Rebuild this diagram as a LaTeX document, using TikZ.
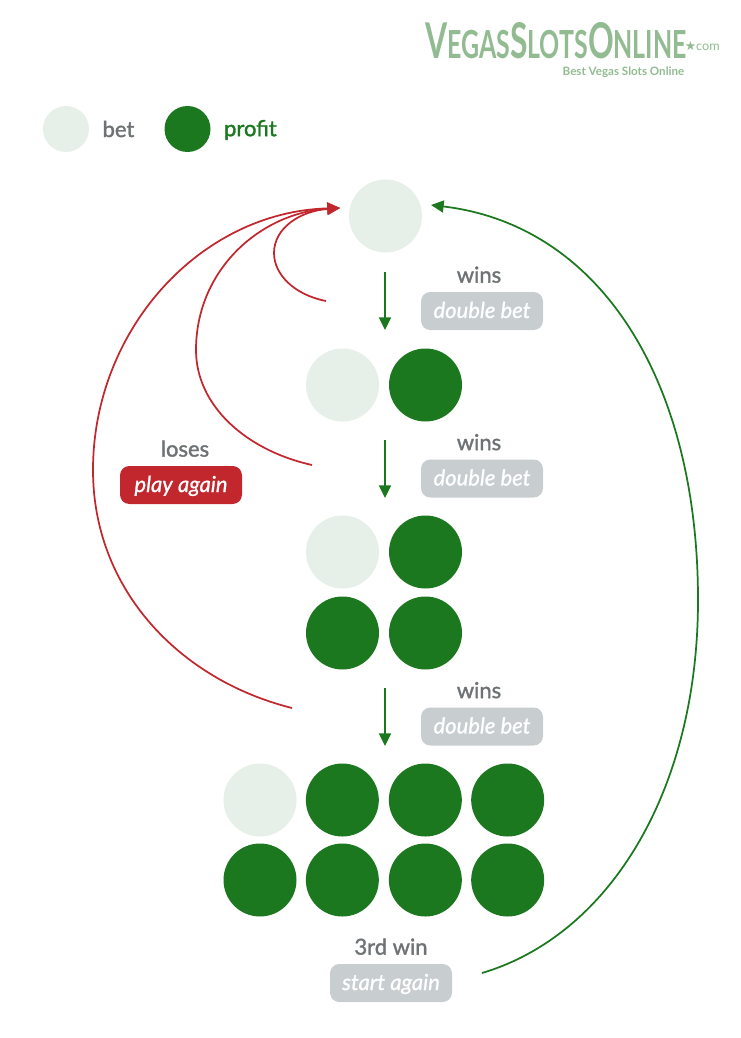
\documentclass[tikz,border=0pt]{standalone}
\usepackage{fontspec}
\setmainfont{Lato}
\newfontfamily\starfont{DejaVu Sans}
\newfontfamily\capfont[FakeBold=1.5]{Lato}
\newfontfamily\pillfont[ItalicFeatures={FakeBold=1}]{Lato}
\usetikzlibrary{arrows.meta,positioning}
\definecolor{betc}{RGB}{230, 239, 232}
\definecolor{profitc}{RGB}{27, 120, 30}
\definecolor{losec}{RGB}{193, 39, 45}
\definecolor{pillc}{RGB}{200, 206, 208}
\definecolor{labelc}{RGB}{110, 114, 116}
\definecolor{logoc}{RGB}{146, 187, 146}
\newcommand{\lowcap}[1]{{\fontsize{29pt}{29pt}\selectfont\MakeUppercase{#1}}}
\tikzset{
	auto,
	betcircle/.style={
		circle, minimum size=54.75pt, inner sep=0pt, outer sep=0pt, fill=betc
	},
	%
	profitcircle/.style={
		circle, minimum size=54.75pt, inner sep=0pt, outer sep=0pt, fill=profitc
	},
	%
	pill/.style={
		rectangle, minimum width=91.5pt, minimum height=28.5pt, rounded corners=7pt,
		inner sep=0pt, text height=12pt, text depth=1.5pt,
		fill=pillc, text=white, font=\fontsize{16.5pt}{18pt}\pillfont\itshape
	},
	%
	caption/.style={
		text=labelc, inner sep=0pt, font=\fontsize{16.5pt}{18pt}\capfont
	},
	%
	winarrow/.style={
		-{Triangle[length=9.5pt,width=9pt]}, line width=1.3pt, draw=profitc
	},
	%
	losearrow/.style={
		-{Triangle[length=9.5pt,width=9pt]}, line width=1.3pt, draw=losec
	}
}

\begin{document}
\begin{tikzpicture}[x=0.75pt, y=-0.75pt]
    \useasboundingbox (0,0) rectangle (741,1038);
    % legend
    \node(legbet)[betcircle, minimum size=34.5pt] at (66,129) {};
    \node(legbettext)[caption, right=10pt of legbet]{bet};
    \node(legprofit)[profitcircle, minimum size=34.5pt] at (187.5,129) {};
    \node(legprofittext)[caption, text=profitc, right=10pt of legprofit, yshift=-0.75pt]{profit};
    % logo
    \node(logo)[text=logoc, inner sep=0pt, font=\fontsize{37pt}{37pt}\selectfont\bfseries, xscale=0.645, anchor=base west] at (425,59) {V\lowcap{egas}S\lowcap{lots}O\lowcap{nline}};
    \node(logocom)[text=logoc, inner sep=0pt, font=\fontsize{9.5pt}{10pt}\selectfont, anchor=east] at (720,46) {{\starfont ★}com};
    \node(logosub)[text=logoc, inner sep=0pt, font=\fontsize{8.7pt}{9pt}\selectfont\bfseries] at (623.5,72) {Best Vegas Slots Online};
    % bets
    \node(start)[betcircle] at (385.5,216) {};
    \node(twobet)[betcircle] at (342.5,385) {};
    \node(twoprofit)[profitcircle, right=7.5pt of twobet]{};
    \node(fourbet)[betcircle] at (342.5,552) {};
    \node(fourprofita)[profitcircle, right=7.5pt of fourbet]{};
    \node(fourprofitb)[profitcircle, below=6pt of fourbet]{};
    \node(fourprofitc)[profitcircle, right=7.5pt of fourprofitb]{};
    \node(eightbet)[betcircle] at (260,800) {};
    \node(eightprofita)[profitcircle, right=7pt of eightbet]{};
    \node(eightprofitb)[profitcircle, right=7.5pt of eightprofita]{};
    \node(eightprofitc)[profitcircle, right=7pt of eightprofitb]{};
    \node(eightprofitd)[profitcircle, below=5.25pt of eightbet]{};
    \node(eightprofite)[profitcircle, right=7pt of eightprofitd]{};
    \node(eightprofitf)[profitcircle, right=7.5pt of eightprofite]{};
    \node(eightprofitg)[profitcircle, right=7pt of eightprofitf]{};
    % labels
    \node(doublea)[pill] at (482,311) {double bet};
    \node(winsa)[caption, above=6.5pt of doublea, xshift=-2.25pt]{wins};
    \node(doubleb)[pill] at (482,478.5) {double bet};
    \node(winsb)[caption, above=6.5pt of doubleb, xshift=-2.25pt]{wins};
    \node(doublec)[pill] at (482,726.5) {double bet};
    \node(winsc)[caption, above=6.5pt of doublec, xshift=-2.25pt]{wins};
    \node(again)[pill, fill=losec] at (181,485) {play again};
    \node(loses)[caption, above=6.5pt of again, xshift=3pt]{loses};
    \node(restart)[pill] at (391,983) {start again};
    \node(thirdwin)[caption, above=6.5pt of restart]{3rd win};
    % connectors
    \coordinate(downa) at (385,272);
    \coordinate(downaend) at (385,330);
    \coordinate(downb) at (385,440);
    \coordinate(downbend) at (385,498);
    \coordinate(downc) at (385,688);
    \coordinate(downcend) at (385,746);
    \draw[winarrow] (downa) -- (downaend);
    \draw[winarrow] (downb) -- (downbend);
    \draw[winarrow] (downc) -- (downcend);
    \coordinate(losetip) at (340,208);
    \coordinate(losea) at (326,301);
    \coordinate(loseb) at (312,465);
    \coordinate(losec) at (292,708);
    \draw[losearrow] (losea) .. controls (295,295) and (274,275) .. (274,253) .. controls (274,228) and (300,211) .. (losetip);
    \draw[losearrow] (loseb) .. controls (245,450) and (196,405) .. (196,350) .. controls (196,270) and (260,213) .. (losetip);
    \draw[losearrow] (losec) .. controls (180,680) and (93,590) .. (93,470) .. controls (93,330) and (200,212) .. (losetip);
    \coordinate(wintip) at (431,205);
    \coordinate(winback) at (482,973);
    \draw[winarrow] (winback) .. controls (610,935) and (698,790) .. (698,600) .. controls (698,380) and (600,225) .. (wintip);
\end{tikzpicture}
\end{document}
